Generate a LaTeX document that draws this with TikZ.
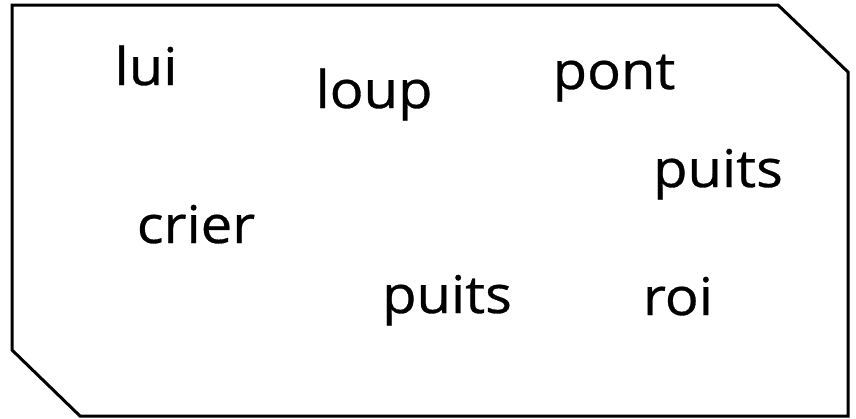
\documentclass[tikz,border=0pt]{standalone}
\usepackage{fontspec}
\setmainfont{Open Sans}[FakeStretch=1.08, FakeBold=0.6]
\begin{document}
\begin{tikzpicture}[x=1pt,y=-1pt,
  word/.style={inner sep=0pt, anchor=base, font=\fontsize{52}{62}\selectfont}]
\useasboundingbox (0,0) rectangle (856,418);
\draw[line width=3pt, line join=miter] (12,5) -- (778,5) -- (848,72) -- (848,416) -- (80,416) -- (12,350) -- cycle;
\node[word] (lui) at (146,85) {lui};
\node[word] (loup) at (374,108) {loup};
\node[word] (pont) at (614,89) {pont};
\node[word] (puitsA) at (718,187) {puits};
\node[word] (crier) at (196,243) {crier};
\node[word] (puitsB) at (447,313) {puits};
\node[word] (roi) at (678,315) {roi};
\end{tikzpicture}
\end{document}
